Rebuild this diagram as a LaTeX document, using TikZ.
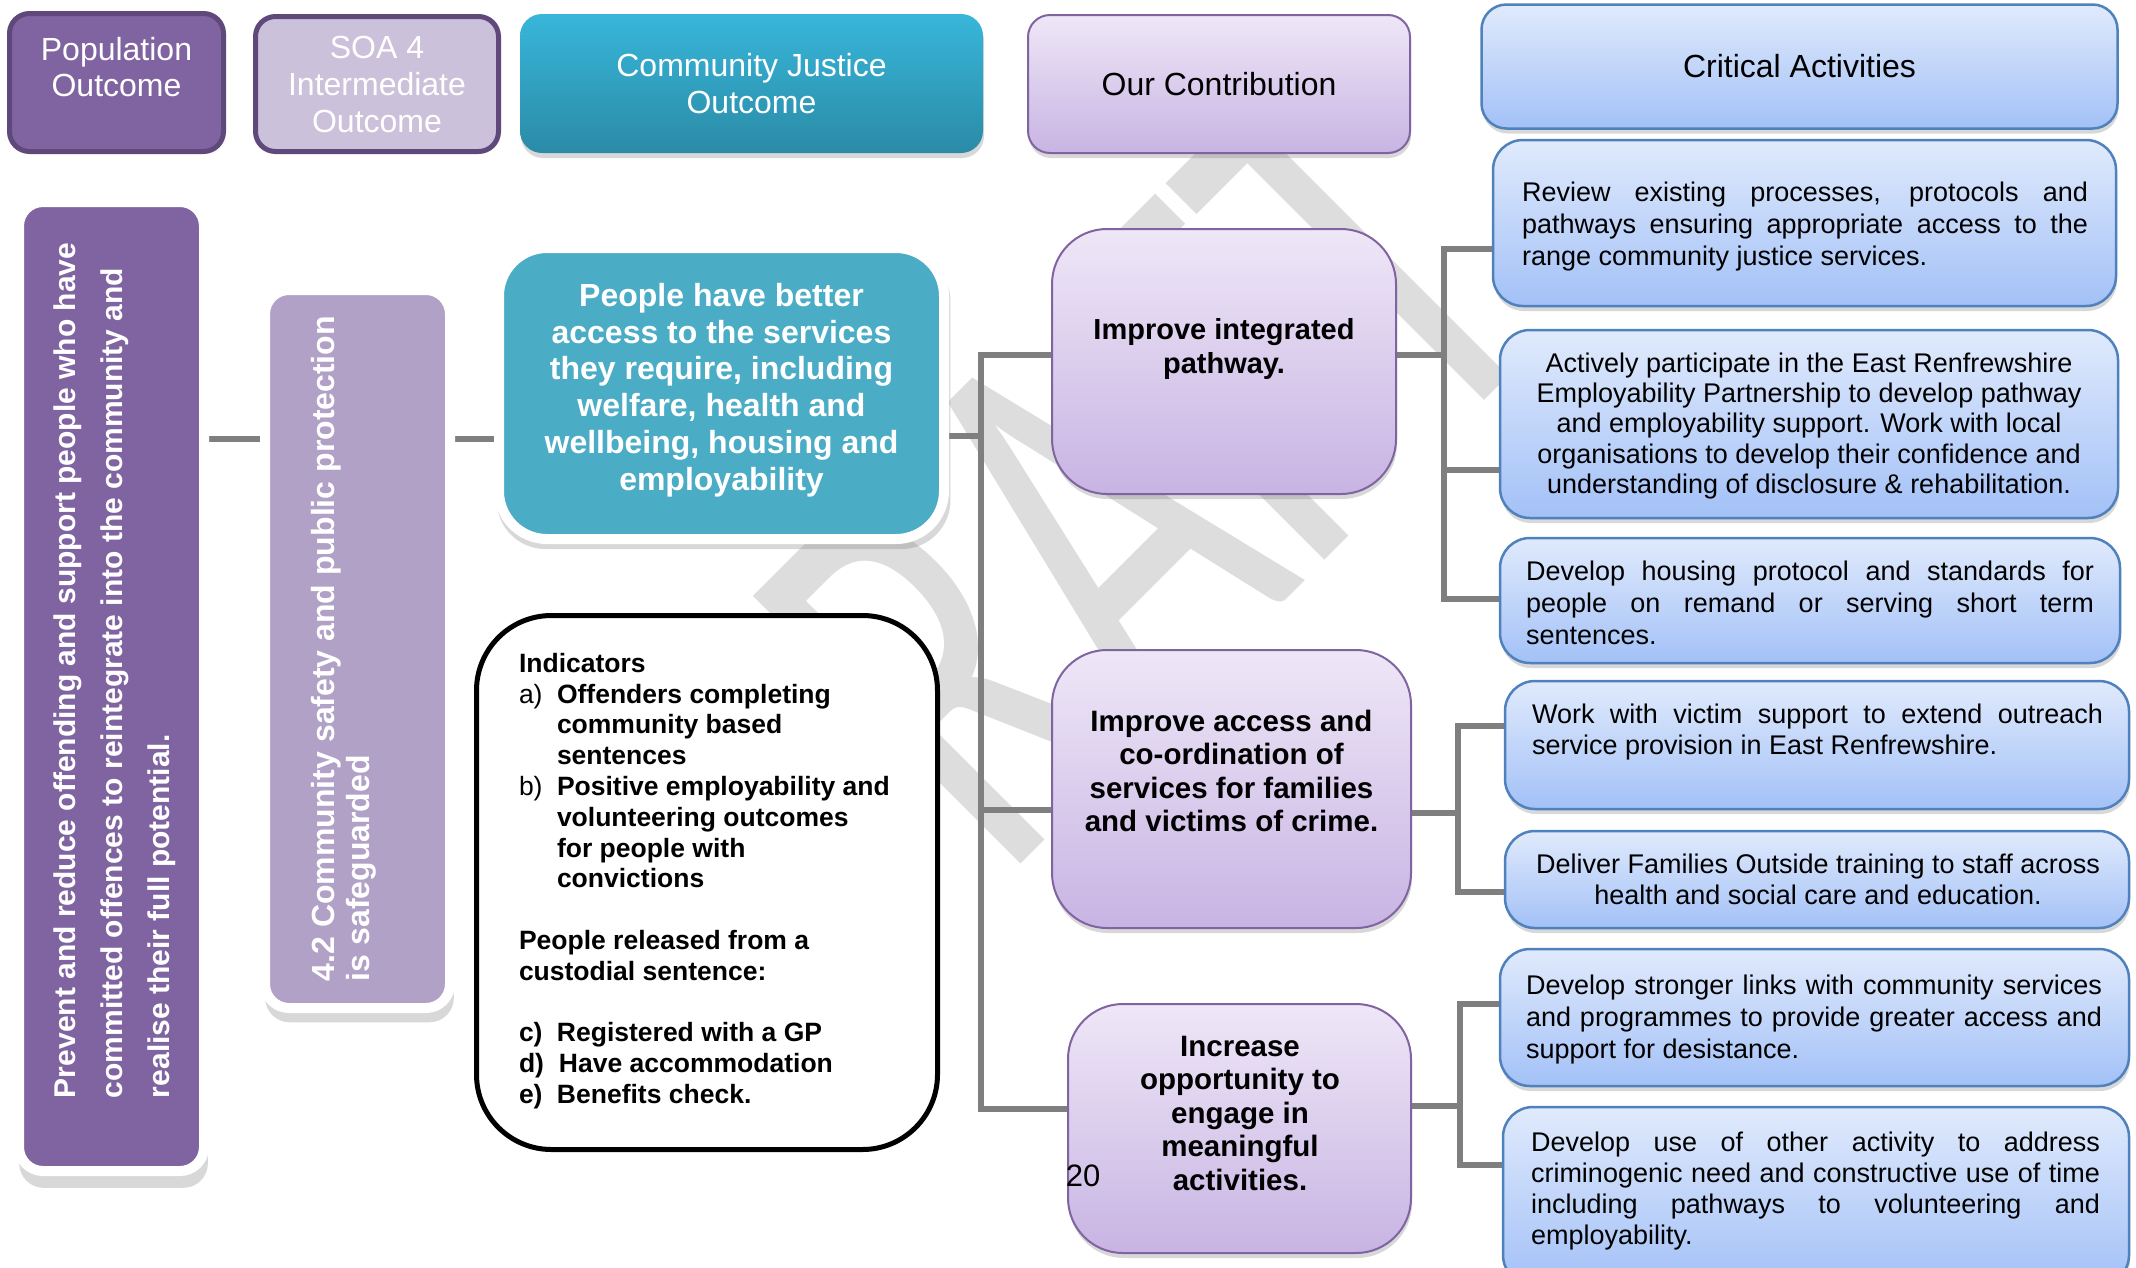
\documentclass[tikz,border=0pt]{standalone}
\usepackage{fontspec}
\setmainfont{Liberation Sans}
\newfontfamily\wmfont{Carlito}
\usetikzlibrary{shadows}
\pgfdeclarelayer{wm}
\pgfdeclarelayer{bg}
\pgfsetlayers{wm,bg,main}
\definecolor{popP}{HTML}{8064A2}
\definecolor{popB}{HTML}{5F497A}
\definecolor{soaF}{HTML}{CCC1DA}
\definecolor{sftF}{HTML}{B2A1C7}
\definecolor{tealT}{HTML}{38B6DA}
\definecolor{tealB}{HTML}{2A8BA6}
\definecolor{tealF}{HTML}{4BACC6}
\definecolor{lavT}{HTML}{EEE7F7}
\definecolor{lavB}{HTML}{C8B4E3}
\definecolor{lavD}{HTML}{8064A2}
\definecolor{bluT}{HTML}{E0EAFC}
\definecolor{bluB}{HTML}{A3C1F7}
\definecolor{bluD}{HTML}{4F81BD}
\definecolor{connG}{HTML}{7F7F7F}
\definecolor{wmG}{HTML}{DDDDDD}
\newcommand{\myfs}[2]{\fontsize{#1}{#2}\selectfont}
\hyphenpenalty=10000
\exhyphenpenalty=10000
\begin{document}
\begin{tikzpicture}[x=1pt,y=-1pt,
  every node/.style={inner sep=0pt, outer sep=0pt},
  conn/.style={draw=connG, line width=6pt},
  shd/.style={drop shadow={opacity=0.3, shadow xshift=1pt, shadow yshift=-5pt}},
  hdr/.style={rectangle, rounded corners=20pt, align=center},
  lav/.style={rectangle, rounded corners=55pt, top color=lavT, bottom color=lavB, draw=lavD, line width=2pt, shd},
  blu/.style={rectangle, rounded corners=30pt, top color=bluT, bottom color=bluB, draw=bluD, line width=2.5pt, shd},
  wfr/.style={rectangle, draw=white, line width=10pt, drop shadow={opacity=0.3, shadow xshift=2pt, shadow yshift=-7pt, shadow scale=1.02}},
  ctxt/.style={text=black, font=\bfseries\myfs{29.5}{33.5}, align=center},
  btxt/.style={text=black, font=\myfs{27}{31}},
]
\useasboundingbox (0,0) rectangle (2136,1267);

% background and watermark
\begin{pgfonlayer}{wm}
\fill[white] (0,0) rectangle (2136,1267);
\begin{scope}[shift={(835,1050)}, rotate=45, xscale=0.65]
\node[transform shape, anchor=base west, text=wmG, font=\wmfont\myfs{590}{590}] (wmark) at (0,0) {DRAFT};
\end{scope}
\end{pgfonlayer}

% header row
\node[hdr, fill=popP, draw=popB, line width=5pt, minimum width=214pt, minimum height=138pt] (hpop) at (116.5,82.5) {};
\node[text=white, align=center, font=\myfs{32}{36}] (tpop) at (116.5,67) {Population\\Outcome};
\node[hdr, fill=soaF, draw=popB, line width=5pt, minimum width=243pt, minimum height=135pt, text=white, font=\myfs{32}{37}] (hsoa) at (377,84) {SOA 4\\Intermediate\\Outcome};
\node[hdr, rounded corners=22pt, top color=tealT, bottom color=tealB, minimum width=463pt, minimum height=139pt, text=white, font=\myfs{32}{37}, shd] (hcj) at (751.5,83.5) {Community Justice\\Outcome};
\node[hdr, rounded corners=22pt, top color=lavT, bottom color=lavB, draw=lavD, line width=2pt, minimum width=382pt, minimum height=138pt, text=black, font=\myfs{32}{37}, shd] (hoc) at (1219,84) {Our Contribution};
\node[hdr, rounded corners=25pt, top color=bluT, bottom color=bluB, draw=bluD, line width=2.5pt, minimum width=636pt, minimum height=124pt, text=black, font=\myfs{32}{37}, shd] (hca) at (1799.5,66.5) {Critical Activities};

% left column
\node[wfr, fill=popP, rounded corners=24pt, minimum width=185pt, minimum height=969pt] (big) at (111.5,686.5) {};
\node[rotate=90, anchor=north west, align=left, text=white, font=\bfseries\myfs{30}{47}] (tbig) at (53.5,1098)
  {Prevent and reduce offending and support people who have\\committed offences to reintegrate into the community and\\realise their full potential.};
\node[wfr, fill=sftF, rounded corners=24pt, minimum width=185pt, minimum height=718pt] (sft) at (357.5,649) {};
\node[rotate=90, anchor=north west, align=left, text=white, font=\bfseries\myfs{32}{35.5}] (tsft) at (311,981)
  {4.2 Community safety and public protection\\is safeguarded};

% community justice outcome
\node[wfr, fill=tealF, rounded corners=48pt, minimum width=445pt, minimum height=291pt] (people) at (721.5,393.5) {};
\node[text=white, align=center, font=\bfseries\myfs{32}{36.8}] (tpeople) at (721.5,390)
  {People have better\\access to the services\\they require, including\\welfare, health and\\wellbeing, housing and\\employability};

% indicators
\node[rectangle, draw=black, fill=white, line width=5pt, rounded corners=75pt, minimum width=461pt, minimum height=534pt] (ind) at (707,882.5) {};
\node[anchor=north west, align=left, font=\bfseries\myfs{26.5}{30.8}] (tind) at (519,653)
  {Indicators\\
   \makebox[38pt][l]{\mdseries a)}Offenders completing\\
   \hspace*{38pt}community based\\
   \hspace*{38pt}sentences\\
   \makebox[38pt][l]{\mdseries b)}Positive employability and\\
   \hspace*{38pt}volunteering outcomes\\
   \hspace*{38pt}for people with\\
   \hspace*{38pt}convictions\\[30.8pt]
   People released from a\\
   custodial sentence:\\[30.8pt]
   \makebox[38pt][l]{c)}Registered with a GP\\
   \makebox[40pt][l]{d)}Have accommodation\\
   \makebox[38pt][l]{e)}Benefits check.};

% our contribution
\node[lav, minimum width=344pt, minimum height=265pt] (ip) at (1224,361.5) {};
\node[ctxt, font=\bfseries\myfs{29}{34}] (tip) at (1224,349) {Improve integrated\\pathway.};
\node[lav, minimum width=359pt, minimum height=278pt] (ia) at (1231.5,789) {};
\node[ctxt] (tia) at (1231.5,771) {Improve access and\\co-ordination of\\services for families\\and victims of crime.};
\node[lav, minimum width=343pt, minimum height=249pt] (inc) at (1239.5,1128.5) {};
\node[ctxt] (tinc) at (1240,1113) {Increase\\opportunity to\\engage in\\meaningful\\activities.};
\node[font=\myfs{31}{31}] (pnum) at (1083,1176) {20};

% critical activities
\node[blu, minimum width=623pt, minimum height=166pt] (rev) at (1804.5,223) {};
\node[btxt, anchor=north west, text width=566pt, align=justify, font=\myfs{27}{32}] (trev) at (1522,182)
  {Review existing processes, protocols and\linebreak pathways ensuring appropriate access to the\linebreak range community justice services.};
\node[blu, minimum width=618pt, minimum height=188pt] (act) at (1809,424) {};
\node[btxt, align=center, font=\myfs{27}{30.4}] (tact) at (1809,426)
  {Actively participate in the East Renfrewshire\\Employability Partnership to develop pathway\\and employability support. Work with local\\organisations to develop their confidence and\\understanding of disclosure \& rehabilitation.};
\node[blu, minimum width=620pt, minimum height=125pt] (hou) at (1810,600.5) {};
\node[btxt, anchor=north west, text width=568pt, align=justify, font=\myfs{27}{32}] (thou) at (1526,561)
  {Develop housing protocol and standards for\linebreak people on remand or serving short term\linebreak sentences.};
\node[blu, minimum width=624pt, minimum height=128pt] (vic) at (1817,745) {};
\node[btxt, anchor=north west, text width=571pt, align=justify] (tvic) at (1532,704)
  {Work with victim support to extend outreach\linebreak service provision in East Renfrewshire.};
\node[blu, minimum width=624pt, minimum height=97pt] (fam) at (1817,879.5) {};
\node[btxt, align=center] (tfam) at (1818,879.5)
  {Deliver Families Outside training to staff across\\health and social care and education.};
\node[blu, minimum width=629pt, minimum height=137pt] (str) at (1814.5,1017.5) {};
\node[btxt, anchor=north west, text width=576pt, align=justify, font=\myfs{27}{32}] (tstr) at (1526,975)
  {Develop stronger links with community services\linebreak and programmes to provide greater access and\linebreak support for desistance.};
\node[blu, minimum width=626pt, minimum height=178pt] (use) at (1816,1196) {};
\node[btxt, anchor=north west, text width=569pt, align=justify] (tuse) at (1531,1132)
  {Develop use of other activity to address\linebreak criminogenic need and constructive use of time\linebreak including pathways to volunteering and\linebreak employability.};

% connectors
\coordinate (tr1t) at (981,355);
\coordinate (tr1b) at (981,1109);
\coordinate (tr2t) at (1444,249);
\coordinate (tr2b) at (1444,599);
\coordinate (tr3t) at (1458,726);
\coordinate (tr3b) at (1458,892);
\coordinate (tr4t) at (1460,1004);
\coordinate (tr4b) at (1460,1165);
\begin{pgfonlayer}{bg}
\draw[conn] (big.east |- 0,439) -- (sft.west |- 0,439);
\draw[conn] (sft.east |- 0,439) -- (people.west |- 0,439);
\draw[conn] (people.east |- 0,436) -- (tr1t |- 0,436);
\draw[conn] (ip.west |- tr1t) -- (tr1t) -- (tr1b) -- (inc.west |- tr1b);
\draw[conn] (ia.west |- 0,810) -- (tr1t |- 0,810);
\draw[conn] (rev.west |- tr2t) -- (tr2t) -- (tr2b) -- (hou.west |- tr2b);
\draw[conn] (ip.east |- 0,355) -- (tr2t |- 0,355);
\draw[conn] (act.west |- 0,470) -- (tr2t |- 0,470);
\draw[conn] (vic.west |- tr3t) -- (tr3t) -- (tr3b) -- (fam.west |- tr3b);
\draw[conn] (ia.east |- 0,813) -- (tr3t |- 0,813);
\draw[conn] (str.west |- tr4t) -- (tr4t) -- (tr4b) -- (use.west |- tr4b);
\draw[conn] (inc.east |- 0,1106) -- (tr4t |- 0,1106);
\end{pgfonlayer}
\end{tikzpicture}
\end{document}
